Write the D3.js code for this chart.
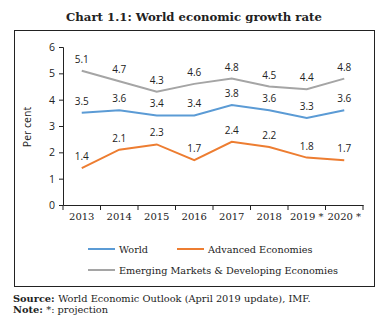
<!DOCTYPE html>
<html lang="en">
<head>
<meta charset="utf-8">
<title>World economic growth rate</title>
<script src="https://cdn.jsdelivr.net/npm/d3@7"></script>
<style>
  body { margin: 0; background: #fff; }
  svg text { fill: #222; }
</style>
</head>
<body>
<script>
// data
var years = ["2013", "2014", "2015", "2016", "2017", "2018", "2019 *", "2020 *"];
var world = [3.5, 3.6, 3.4, 3.4, 3.8, 3.6, 3.3, 3.6];
var advanced = [1.4, 2.1, 2.3, 1.7, 2.4, 2.2, 1.8, 1.7];
var emerging = [5.1, 4.7, 4.3, 4.6, 4.8, 4.5, 4.4, 4.8];
var seriesNames = ["World", "Advanced Economies", "Emerging Markets & Developing Economies"];
var yTicks = [0, 1, 2, 3, 4, 5, 6];

var w = 389, h = 326;
var serif = "'DejaVu Serif', 'Liberation Serif', serif";
var sans = "'Open Sans', 'DejaVu Sans', sans-serif";
var colors = ["#5b9bd5", "#ed7d31", "#a5a5a5"];

var svg = d3.select("body").append("svg")
  .attr("width", w).attr("height", h);

// title
svg.append("text")
  .attr("x", 194).attr("y", 21)
  .attr("text-anchor", "middle")
  .attr("font-family", serif)
  .attr("font-weight", "bold")
  .attr("font-size", "11.7px")
  .text("Chart 1.1: World economic growth rate");

// frame
svg.append("rect")
  .attr("x", 14.5).attr("y", 30.5)
  .attr("width", 360).attr("height", 256)
  .attr("fill", "none").attr("stroke", "#222").attr("stroke-width", 1);

var x = d3.scaleBand().domain(years).range([63, 363]);
var y = d3.scaleLinear().domain([0, 6]).range([205, 47]);

// y axis
var gy = svg.append("g").attr("transform", "translate(63,0)")
  .call(d3.axisLeft(y).tickValues(yTicks).tickSize(4).tickFormat(d3.format("d")));
gy.selectAll("text").attr("font-family", sans).attr("font-size", "10.5px").attr("fill", "#222").attr("dx", "-1");
gy.selectAll("line, path").attr("stroke", "#222");

// x axis
var gx = svg.append("g").attr("transform", "translate(0,205)")
  .call(d3.axisBottom(x).tickSize(0).tickPadding(8));
gx.selectAll("text").attr("font-family", serif).attr("font-size", "10px").attr("fill", "#222");
gx.select("path").attr("stroke", "#222");
// tick marks at band boundaries
gx.selectAll(".bound").data(years).enter().append("line")
  .attr("class", "bound")
  .attr("x1", function(d) { return x(d) + x.bandwidth(); })
  .attr("x2", function(d) { return x(d) + x.bandwidth(); })
  .attr("y1", 0).attr("y2", 5)
  .attr("stroke", "#222");
gx.append("line").attr("x1", 63).attr("x2", 63).attr("y1", 0).attr("y2", 5).attr("stroke", "#222");

// y axis title
svg.append("text")
  .attr("transform", "translate(31,127) rotate(-90)")
  .attr("text-anchor", "middle")
  .attr("font-family", sans)
  .attr("font-size", "10.5px")
  .text("Per cent");

// lines
var line = d3.line()
  .x(function(d, i) { return x(years[i]) + x.bandwidth() / 2; })
  .y(function(d) { return y(d); });

var allSeries = [world, advanced, emerging];
allSeries.forEach(function(s, k) {
  svg.append("path")
    .datum(s)
    .attr("d", line)
    .attr("fill", "none")
    .attr("stroke", colors[k])
    .attr("stroke-width", 2);

  svg.selectAll(".lbl" + k).data(s).enter().append("text")
    .attr("class", "lbl" + k)
    .attr("x", function(d, i) { return x(years[i]) + x.bandwidth() / 2; })
    .attr("y", function(d) { return y(d) - 8; })
    .attr("text-anchor", "middle")
    .attr("font-family", sans)
    .attr("font-size", "10px")
    .text(function(d) { return d3.format(".1f")(d); });
});

// legend
var legendPos = [[88, 249], [177, 249], [88, 270]];
seriesNames.forEach(function(name, k) {
  var p = legendPos[k];
  svg.append("line")
    .attr("x1", p[0]).attr("x2", p[0] + 27)
    .attr("y1", p[1]).attr("y2", p[1])
    .attr("stroke", colors[k]).attr("stroke-width", 2);
  svg.append("text")
    .attr("x", p[0] + 31).attr("y", p[1] + 3.5)
    .attr("font-family", serif)
    .attr("font-size", "9.7px")
    .text(name);
});

// source & note
var src = svg.append("text").attr("x", 13).attr("y", 302)
  .attr("font-family", serif).attr("font-size", "9.8px");
src.append("tspan").attr("font-weight", "bold").text("Source: ");
src.append("tspan").text("World Economic Outlook (April 2019 update), IMF.");

var note = svg.append("text").attr("x", 13).attr("y", 313)
  .attr("font-family", serif).attr("font-size", "9.8px");
note.append("tspan").attr("font-weight", "bold").text("Note: ");
note.append("tspan").text("*: projection");
</script>
</body>
</html>
